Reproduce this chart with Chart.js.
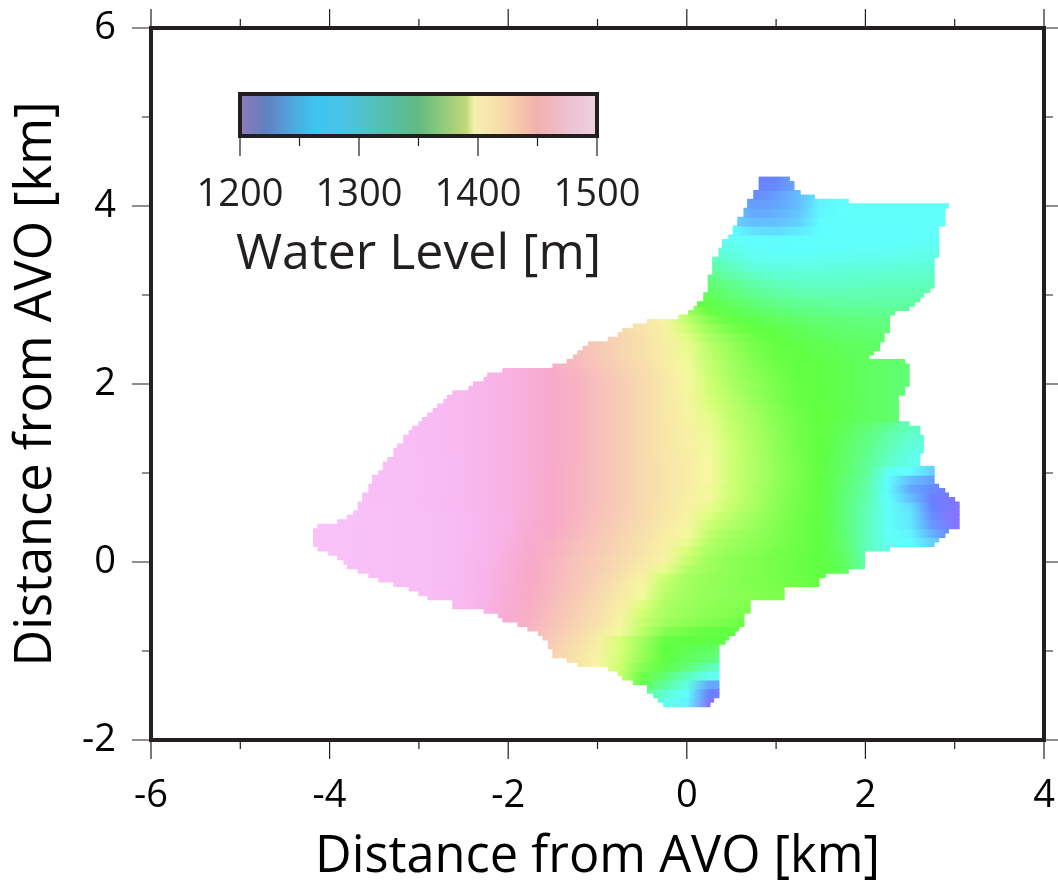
<!DOCTYPE html>
<html>
<head>
<meta charset="utf-8">
<title>Water Level</title>
<script src="https://cdn.jsdelivr.net/npm/chart.js@4.4.1/dist/chart.umd.js"></script>
<style>
  html, body { margin: 0; padding: 0; background: #fff; }
  #wrap { position: relative; width: 1058px; height: 883px; overflow: hidden; }
  canvas { position: absolute; display: block; }
  #mapChart { left: 0; top: 0; }
  #barChart { left: 178px; top: 80px; }
</style>
</head>
<body>
<div id="wrap">
  <canvas id="mapChart" width="1058" height="883"></canvas>
  <canvas id="barChart" width="480" height="210"></canvas>
</div>
<script>
const FONT = '"Open Sans", sans-serif';
const INK = "#231f20";

// y of each grid row [km], bottom to top
const rowY = [-1.6,-1.55,-1.5,-1.45,-1.4,-1.35,-1.3,-1.25,-1.2,-1.15,-1.1,-1.05,-1,-0.95,-0.9,-0.85,-0.8,-0.75,-0.7,-0.65,
  -0.6,-0.55,-0.5,-0.45,-0.4,-0.35,-0.3,-0.25,-0.2,-0.15,-0.1,-0.05,0,0.05,0.1,0.15,0.2,0.25,0.3,0.35,
  0.4,0.45,0.5,0.55,0.6,0.65,0.7,0.75,0.8,0.85,0.9,0.95,1,1.05,1.1,1.15,1.2,1.25,1.3,1.35,
  1.4,1.45,1.5,1.55,1.6,1.65,1.7,1.75,1.8,1.85,1.9,1.95,2,2.05,2.1,2.15,2.2,2.25,2.3,2.35,
  2.4,2.45,2.5,2.55,2.6,2.65,2.7,2.75,2.8,2.85,2.9,2.95,3,3.05,3.1,3.15,3.2,3.25,3.3,3.35,
  3.4,3.45,3.5,3.55,3.6,3.65,3.7,3.75,3.8,3.85,3.9,3.95,4,4.05,4.1,4.15,4.2,4.25,4.3];

// west edge of the mapped area in each row [km]
const rowWest = [-0.26,-0.32,-0.37,-0.44,-0.44,-0.60,-0.72,-0.77,-0.88,-1.22,-1.34,-1.50,-1.50,-1.55,-1.55,-1.61,-1.66,-1.78,-1.89,-2.06,
  -2.11,-2.27,-2.62,-2.62,-2.90,-3.00,-3.11,-3.28,-3.45,-3.56,-3.68,-3.80,-3.84,-3.91,-4.01,-4.13,-4.18,-4.18,-4.18,-4.18,
  -4.13,-3.91,-3.80,-3.73,-3.68,-3.68,-3.63,-3.63,-3.56,-3.56,-3.52,-3.52,-3.45,-3.40,-3.40,-3.35,-3.28,-3.28,-3.24,-3.17,
  -3.17,-3.11,-3.07,-3.00,-2.96,-2.90,-2.84,-2.79,-2.72,-2.68,-2.62,-2.44,-2.39,-2.27,-2.23,-2.06,-1.50,-1.34,-1.27,-1.22,
  -1.16,-1.10,-0.88,-0.77,-0.72,-0.60,-0.44,-0.09,0.02,0.08,0.12,0.19,0.19,0.24,0.24,0.24,0.24,0.29,0.29,0.29,
  0.29,0.36,0.36,0.40,0.40,0.47,0.52,0.52,0.57,0.57,0.64,0.64,0.68,0.68,0.75,0.75,0.81,0.81,0.81];

// east edge of the mapped area in each row [km]
const rowEast = [0.26,0.30,0.36,0.36,0.36,0.36,0.36,0.36,0.36,0.36,0.36,0.36,0.36,0.36,0.43,0.47,0.54,0.58,0.64,0.64,
  0.64,0.71,0.71,0.71,1.09,1.09,1.09,1.48,1.48,1.55,1.81,1.99,1.99,1.99,1.99,2.27,2.77,2.82,2.89,2.93,
  3.05,3.05,3.05,3.05,3.05,3.05,3.00,2.93,2.89,2.82,2.77,2.77,2.77,2.77,2.61,2.61,2.61,2.65,2.65,2.65,
  2.65,2.61,2.61,2.49,2.37,2.37,2.37,2.37,2.37,2.37,2.44,2.44,2.49,2.49,2.49,2.49,2.49,2.44,2.04,2.09,
  2.16,2.16,2.21,2.21,2.27,2.27,2.27,2.27,2.33,2.49,2.55,2.61,2.65,2.72,2.77,2.77,2.77,2.77,2.77,2.77,
  2.77,2.82,2.82,2.82,2.82,2.82,2.82,2.82,2.89,2.89,2.89,2.89,2.93,1.81,1.43,1.27,1.20,1.20,1.15];

// x of the first level in each band of two rows [km], levels follow every 0.25 km
const bandStart = [-0.5,-0.5,-0.75,-1,-1.25,-1.5,-1.75,-1.75,-2,-2.25,
  -2.5,-2.75,-3,-3.5,-3.75,-4,-4,-4.25,-4.25,-4.25,
  -4.25,-4,-3.75,-3.75,-3.75,-3.75,-3.5,-3.5,-3.5,-3.25,
  -3.25,-3.25,-3,-3,-2.75,-2.75,-2.5,-2.25,-1.5,-1.5,
  -1.25,-1,-0.75,-0.5,0,0,0,0,0,0.25,
  0.25,0.25,0.25,0.5,0.5,0.5,0.5,0.75,0.75,0.75];
const stepX = 0.25;

// water level [m] read along each band, bottom to top
const bandLevels = [
  [1312,1275,1262,1208,1205],
  [1320,1285,1265,1225,1215],
  [1380,1345,1308,1278,1238,1235],
  [1398,1385,1355,1328,1295,1272,1268],
  [1410,1399,1386,1362,1345,1325,1298,1280],
  [1423,1411,1400,1388,1368,1350,1336,1325,1305],
  [1438,1424,1413,1402,1390,1370,1350,1342,1335,1325],
  [1439,1426,1415,1404,1390,1372,1352,1349,1349,1345],
  [1454,1441,1429,1419,1408,1396,1380,1362,1356,1352,1350,1350],
  [1471,1456,1443,1432,1422,1412,1400,1384,1371,1365,1361,1357,1354],
  [1484,1473,1458,1445,1434,1424,1414,1402,1388,1374,1368,1364,1361,1358],
  [1490,1484,1474,1460,1447,1436,1426,1416,1405,1392,1376,1370,1366,1363,1361],
  [1494,1490,1484,1475,1461,1448,1438,1428,1418,1407,1396,1379,1371,1367,1364,1362,1360,1358],
  [1497,1496,1494,1491,1485,1476,1462,1449,1439,1430,1420,1409,1398,1382,1372,1367,1364,1361,1358,1355,1352],
  [1498,1497,1496,1494,1491,1486,1477,1463,1450,1440,1431,1422,1412,1401,1386,1373,1368,1364,1360,1357,1354,1350,1342],
  [1499,1498,1497,1496,1494,1491,1486,1478,1464,1451,1441,1432,1424,1415,1405,1394,1378,1370,1365,1361,1357,1353,1350,1338,1305],
  [1499,1498,1497,1496,1494,1491,1486,1478,1465,1452,1442,1433,1425,1417,1408,1400,1385,1371,1365,1361,1357,1353,1350,1336,1302],
  [1500,1499,1498,1497,1496,1494,1491,1486,1479,1467,1453,1444,1435,1427,1419,1410,1402,1390,1375,1368,1363,1358,1354,1350,1333,1298,1275],
  [1500,1499,1498,1497,1496,1494,1491,1486,1479,1468,1455,1445,1436,1428,1420,1411,1403,1394,1378,1370,1365,1360,1354,1350,1330,1296,1270,1264,1250,1245],
  [1500,1499,1498,1497,1496,1494,1491,1486,1480,1470,1458,1448,1439,1430,1422,1413,1405,1397,1382,1373,1367,1361,1355,1350,1328,1296,1268,1262,1240,1225],
  [1500,1499,1498,1497,1496,1494,1491,1486,1480,1471,1460,1450,1441,1432,1424,1415,1407,1400,1387,1377,1370,1362,1355,1350,1327,1297,1268,1258,1232,1208],
  [1499,1498,1497,1496,1494,1491,1486,1480,1472,1461,1451,1442,1433,1425,1417,1408,1401,1391,1380,1372,1363,1355,1350,1326,1298,1268,1258,1228,1205],
  [1498,1497,1495,1492,1488,1484,1478,1471,1461,1451,1443,1434,1426,1417,1409,1402,1394,1384,1374,1364,1356,1350,1326,1300,1268,1255,1225,1210],
  [1497,1496,1494,1492,1488,1484,1478,1470,1461,1451,1443,1435,1426,1417,1410,1403,1396,1386,1376,1365,1357,1350,1327,1303,1266,1245,1222,1212],
  [1497,1496,1494,1492,1489,1484,1478,1470,1461,1451,1443,1435,1426,1417,1410,1404,1396,1386,1376,1366,1357,1350,1328,1305,1264,1238,1228,1215],
  [1497,1496,1494,1492,1489,1484,1478,1470,1461,1451,1443,1435,1426,1417,1410,1404,1397,1387,1377,1367,1358,1350,1330,1308,1264,1245,1235],
  [1496,1494,1492,1489,1484,1478,1470,1461,1451,1443,1435,1426,1417,1410,1404,1397,1387,1377,1367,1358,1350,1332,1312,1272,1265,1250],
  [1496,1494,1492,1489,1484,1478,1470,1461,1452,1444,1435,1426,1417,1410,1404,1397,1387,1377,1367,1358,1350,1333,1314,1290,1272,1268],
  [1496,1494,1492,1488,1484,1478,1470,1461,1452,1444,1435,1426,1417,1409,1404,1396,1386,1376,1366,1357,1350,1335,1317,1295,1277,1274],
  [1494,1492,1488,1484,1478,1470,1461,1452,1444,1435,1426,1417,1409,1403,1396,1386,1376,1366,1356,1350,1336,1320,1300,1282,1278],
  [1494,1492,1488,1484,1478,1470,1461,1452,1444,1435,1426,1417,1409,1403,1395,1385,1375,1365,1356,1350,1338,1323,1305,1288,1282],
  [1494,1492,1488,1484,1478,1470,1461,1452,1444,1435,1426,1417,1409,1402,1394,1384,1374,1364,1356,1350,1340,1328,1312,1295,1288],
  [1492,1488,1484,1478,1470,1461,1452,1444,1435,1426,1417,1408,1401,1393,1382,1373,1363,1355,1350,1344,1336,1332,1322,1312],
  [1491,1488,1484,1478,1470,1461,1452,1444,1435,1426,1417,1408,1400,1391,1381,1371,1362,1354,1350,1344,1337,1330,1325],
  [1488,1484,1478,1470,1461,1452,1444,1435,1426,1417,1408,1400,1390,1379,1369,1360,1353,1349,1344,1337,1330,1325],
  [1488,1484,1478,1470,1461,1452,1444,1435,1426,1417,1408,1399,1388,1377,1367,1359,1352,1348,1343,1337,1330,1325],
  [1484,1478,1470,1462,1452,1444,1435,1426,1417,1408,1398,1387,1375,1366,1358,1352,1348,1343,1337,1331,1326],
  [1478,1470,1462,1452,1443,1433,1424,1416,1407,1397,1385,1373,1364,1357,1350,1347,1342,1336,1330,1326],
  [1447,1439,1430,1422,1414,1405,1396,1384,1372,1362,1355,1350,1347,1342,1337,1332,1328],
  [1445,1438,1429,1421,1413,1405,1395,1382,1370,1360,1353,1349,1345,1340,1337,1335],
  [1436,1428,1420,1413,1405,1394,1380,1368,1358,1352,1347,1342,1338,1335,1333],
  [1428,1420,1412,1403,1392,1376,1364,1355,1350,1343,1338,1334,1331,1329],
  [1416,1411,1402,1388,1370,1358,1351,1345,1338,1333,1329,1327,1325],
  [1410,1400,1382,1362,1352,1345,1338,1332,1327,1324,1322,1320,1319],
  [1372,1352,1342,1334,1327,1321,1317,1315,1313,1312,1312],
  [1350,1344,1334,1324,1316,1311,1308,1306,1305,1305,1305,1305],
  [1342,1336,1325,1314,1306,1301,1299,1298,1298,1299,1300,1300],
  [1335,1328,1315,1304,1296,1292,1291,1291,1292,1293,1294,1295,1296],
  [1328,1318,1303,1292,1286,1284,1284,1285,1286,1287,1288,1289,1290],
  [1308,1292,1280,1277,1277,1278,1279,1280,1281,1282,1283,1284],
  [1295,1282,1272,1270,1270,1271,1272,1273,1274,1275,1277,1278],
  [1285,1275,1268,1266,1266,1267,1268,1268,1269,1270,1272,1274],
  [1275,1268,1265,1264,1265,1266,1267,1267,1267,1267,1268,1270],
  [1264,1256,1254,1258,1265,1266,1266,1266,1266,1267,1268],
  [1252,1244,1245,1250,1265,1266,1266,1266,1266,1267,1267],
  [1246,1238,1240,1247,1263,1267,1267,1267,1267,1267,1267],
  [1242,1234,1236,1244,1262,1267,1267,1267,1267,1267,1267],
  [1228,1234,1244,1258],
  [1226,1228,1238],
  [1224,1226,1238]
];

// colour table of the map
const mapLevels = [1200,1225,1265,1350,1390,1397,1450,1480,1500];
const mapColors = ["#9070ff","#6880ff","#60ffff","#60ff40","#d8ff78","#f8f8a0","#f8a8c8","#f8b5ee","#f8c2f8"];

// colour table of the scale bar
const barLevels = [1200,1222,1245,1264,1285,1350,1390,1397,1420,1450,1475,1500];
const barColors = ["#8e7ab8","#6080c0","#50a8e0","#3cc5f0","#48c4e8","#60bb80","#c0d878","#f4f0b0","#f8dcaa","#f2b0ac","#eec0d0","#f0d0e0"];

const toRgb = (hex) => [1, 3, 5].map((i) => parseInt(hex.slice(i, i + 2), 16));

function levelColor(level, levels, colors) {
  let i = 0;
  while (i < levels.length - 2 && level > levels[i + 1]) i++;
  const t = Math.min(1, Math.max(0, (level - levels[i]) / (levels[i + 1] - levels[i])));
  const a = toRgb(colors[i]);
  const b = toRgb(colors[i + 1]);
  const c = a.map((v, n) => Math.round(v + (b[n] - v) * t));
  return `rgb(${c[0]},${c[1]},${c[2]})`;
}

function rowFill(ctx) {
  const chart = ctx.chart;
  // options also get resolved before the layout has run
  if (!chart.chartArea || ctx.dataIndex === undefined) return "transparent";
  const band = Math.floor(ctx.dataIndex / 2);
  const levels = bandLevels[band];
  const x = chart.scales.x;
  const x0 = bandStart[band];
  const x1 = x0 + stepX * (levels.length - 1);
  const g = chart.ctx.createLinearGradient(x.getPixelForValue(x0), 0, x.getPixelForValue(x1), 0);
  levels.forEach((lv, i) => g.addColorStop(i / (levels.length - 1), levelColor(lv, mapLevels, mapColors)));
  return g;
}

function barFill(ctx) {
  const chart = ctx.chart;
  if (!chart.chartArea) return "transparent";
  const x = chart.scales.x;
  const g = chart.ctx.createLinearGradient(x.getPixelForValue(1200), 0, x.getPixelForValue(1500), 0);
  barLevels.forEach((lv, i) => g.addColorStop((lv - 1200) / 300, barColors[i]));
  return g;
}

// frame plus long and short outward ticks, the scales only give one tick length
const frameTicks = {
  id: "frameTicks",
  afterDatasetsDraw(chart, args, opts) {
    const { ctx, chartArea: area, scales } = chart;
    ctx.save();
    ctx.strokeStyle = INK;
    ctx.lineCap = "butt";
    ctx.lineWidth = opts.tickWidth;
    const isLong = (v) => v % opts.labelEvery === 0;
    ctx.beginPath();
    scales.x.ticks.forEach((t) => {
      const px = scales.x.getPixelForValue(t.value);
      const len = isLong(t.value) ? opts.long : opts.short;
      ctx.moveTo(px, area.bottom);
      ctx.lineTo(px, area.bottom + len);
      if (opts.allSides) {
        ctx.moveTo(px, area.top);
        ctx.lineTo(px, area.top - len);
      }
    });
    if (opts.allSides) {
      scales.y.ticks.forEach((t) => {
        const py = scales.y.getPixelForValue(t.value);
        const len = isLong(t.value) ? opts.long : opts.short;
        ctx.moveTo(area.left, py);
        ctx.lineTo(area.left - len, py);
        ctx.moveTo(area.right, py);
        ctx.lineTo(area.right + len, py);
      });
    }
    ctx.stroke();
    ctx.lineWidth = opts.frameWidth;
    ctx.lineJoin = "miter";
    ctx.strokeRect(area.left, area.top, area.right - area.left, area.bottom - area.top);
    // axis and plugin titles get squeezed to the bar width, this one is wider than the bar
    if (opts.caption) {
      ctx.fillStyle = INK;
      ctx.font = `${opts.captionSize}px ${FONT}`;
      ctx.textAlign = "center";
      ctx.textBaseline = "middle";
      ctx.fillText(opts.caption, (area.left + area.right) / 2, area.bottom + opts.captionGap);
    }
    ctx.restore();
  },
};

// fixed axis bands, so the plot area lands where it should
function fixBand(scale, prop, size) {
  scale[prop] = size;
  scale.paddingLeft = scale.paddingRight = scale.paddingTop = scale.paddingBottom = 0;
}

Chart.defaults.font.family = FONT;

new Chart(document.getElementById("mapChart"), {
  type: "bar",
  data: {
    datasets: [
      {
        data: rowY.map((y, k) => ({ x: [rowWest[k], rowEast[k]], y })),
        backgroundColor: rowFill,
        borderWidth: 0,
        barPercentage: 1,
        categoryPercentage: 1,
        inflateAmount: 0.5,
      },
    ],
  },
  options: {
    indexAxis: "y",
    responsive: false,
    devicePixelRatio: 1,
    animation: false,
    events: [],
    layout: { autoPadding: false, padding: { top: 28, right: 14, left: 0, bottom: 0 } },
    scales: {
      x: {
        type: "linear",
        min: -6,
        max: 4,
        offset: false,
        grid: { display: false, offset: false },
        border: { display: false },
        ticks: {
          stepSize: 1,
          autoSkip: false,
          maxRotation: 0,
          padding: 25,
          color: "#000",
          font: { size: 38 },
          callback: (v) => (v % 2 === 0 ? String(v) : ""),
        },
        title: {
          display: true,
          text: "Distance from AVO [km]",
          color: "#000",
          font: { size: 50.5, lineHeight: 1 },
          padding: { top: 0, bottom: 0 },
        },
        afterFit: (s) => fixBand(s, "height", 143),
      },
      y: {
        type: "linear",
        min: -2,
        max: 6,
        offset: false,
        grid: { display: false, offset: false },
        border: { display: false },
        ticks: {
          stepSize: 1,
          autoSkip: false,
          padding: 27,
          color: "#000",
          font: { size: 38 },
          callback: (v) => (v % 2 === 0 ? String(v) : ""),
        },
        title: {
          display: true,
          text: "Distance from AVO [km]",
          color: "#000",
          font: { size: 50.5, lineHeight: 1 },
          padding: { top: 11, bottom: 0 },
        },
        afterFit: (s) => fixBand(s, "width", 151),
      },
    },
    plugins: {
      legend: { display: false },
      tooltip: { enabled: false },
      frameTicks: { allSides: true, labelEvery: 2, long: 19, short: 9, tickWidth: 1.2, frameWidth: 4 },
    },
  },
  plugins: [frameTicks],
});

new Chart(document.getElementById("barChart"), {
  type: "bar",
  data: {
    labels: ["Water Level"],
    datasets: [
      {
        data: [[1200, 1500]],
        backgroundColor: barFill,
        borderWidth: 0,
        barPercentage: 1,
        categoryPercentage: 1,
      },
    ],
  },
  options: {
    indexAxis: "y",
    responsive: false,
    devicePixelRatio: 1,
    animation: false,
    events: [],
    layout: { autoPadding: false, padding: { left: 62, right: 61, top: 14, bottom: 0 } },
    scales: {
      x: {
        type: "linear",
        min: 1200,
        max: 1500,
        offset: false,
        grid: { display: false, offset: false },
        border: { display: false },
        ticks: {
          stepSize: 50,
          autoSkip: false,
          maxRotation: 0,
          padding: 28,
          color: INK,
          font: { size: 38 },
          callback: (v) => (v % 100 === 0 ? String(v) : ""),
        },
        afterFit: (s) => fixBand(s, "height", 154),
      },
      y: { display: false },
    },
    plugins: {
      legend: { display: false },
      tooltip: { enabled: false },
      frameTicks: {
        allSides: false,
        labelEvery: 100,
        long: 20,
        short: 10,
        tickWidth: 1.2,
        frameWidth: 4,
        caption: "Water Level [m]",
        captionSize: 50,
        captionGap: 119,
      },
    },
  },
  plugins: [frameTicks],
});
</script>
</body>
</html>
